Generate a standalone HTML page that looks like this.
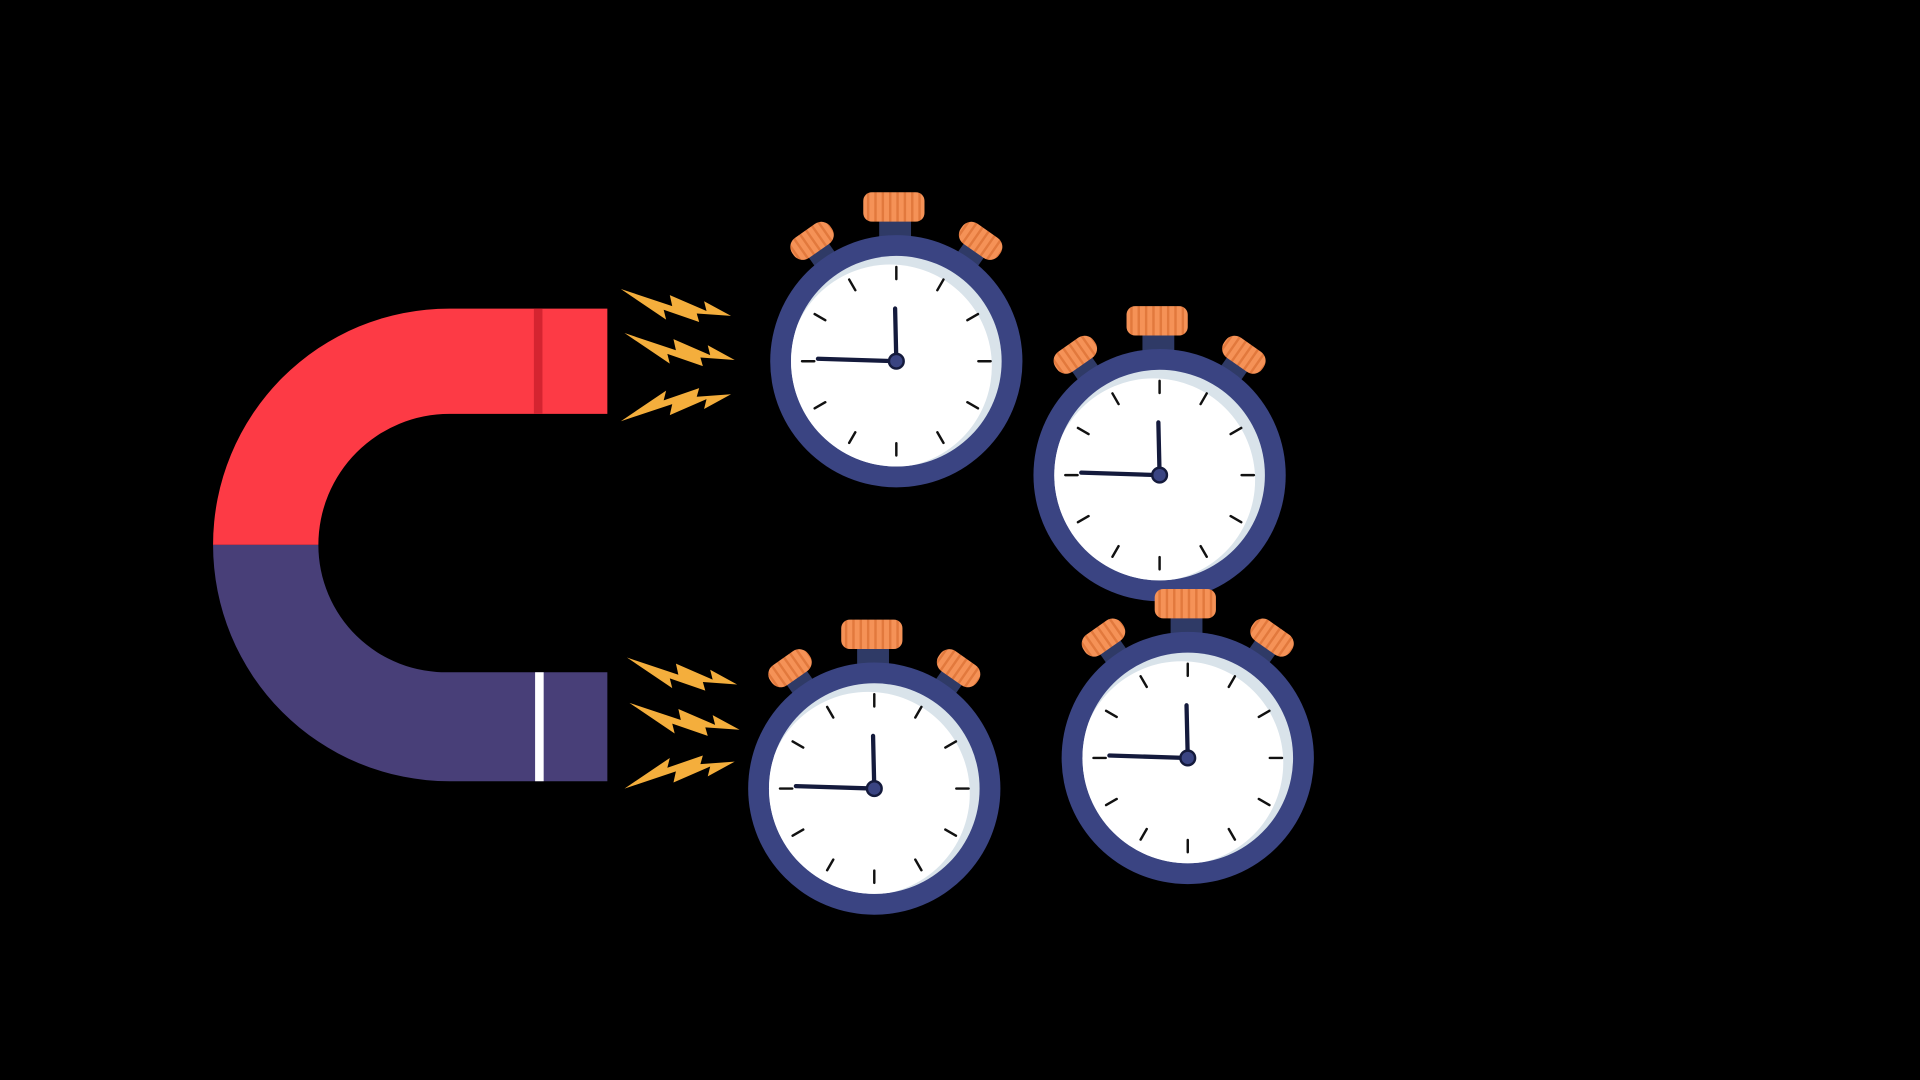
<!DOCTYPE html>
<html><head><meta charset="utf-8"><style>html,body{margin:0;padding:0;background:#000;overflow:hidden}svg{display:block}</style></head>
<body>
<svg width="1920" height="1080" viewBox="0 0 1568 882" xmlns="http://www.w3.org/2000/svg">
<defs>
<pattern id="st" width="6" height="10" patternUnits="userSpaceOnUse"><rect width="6" height="10" fill="#f59257"/><rect width="2" height="10" fill="#e2793d"/></pattern>
<clipPath id="fc"><circle r="86"/></clipPath>
<g id="sw">
  <g transform="rotate(-35)"><rect x="-10" y="-114" width="20" height="18" fill="#2f3a66"/><rect x="-19" y="-130" width="38" height="20" rx="9" fill="url(#st)"/></g>
  <g transform="rotate(35)"><rect x="-10" y="-114" width="20" height="18" fill="#2f3a66"/><rect x="-19" y="-130" width="38" height="20" rx="9" fill="url(#st)"/></g>
  <rect x="-14" y="-118" width="26" height="18" fill="#2f3a66"/>
  <rect x="-27" y="-138" width="50" height="24" rx="7" fill="url(#st)"/>
  <circle r="103" fill="#3a4482"/>
  <circle r="86" fill="#d9e3ea"/>
  <circle cx="-5" cy="4" r="83" fill="#fff" clip-path="url(#fc)"/>
  <g stroke="#111" stroke-width="2" stroke-linecap="round">
    <line x1="0" y1="-77" x2="0" y2="-67"/>
    <line x1="0" y1="-77" x2="0" y2="-67" transform="rotate(30)"/>
    <line x1="0" y1="-77" x2="0" y2="-67" transform="rotate(60)"/>
    <line x1="0" y1="-77" x2="0" y2="-67" transform="rotate(90)"/>
    <line x1="0" y1="-77" x2="0" y2="-67" transform="rotate(120)"/>
    <line x1="0" y1="-77" x2="0" y2="-67" transform="rotate(150)"/>
    <line x1="0" y1="-77" x2="0" y2="-67" transform="rotate(180)"/>
    <line x1="0" y1="-77" x2="0" y2="-67" transform="rotate(210)"/>
    <line x1="0" y1="-77" x2="0" y2="-67" transform="rotate(240)"/>
    <line x1="0" y1="-77" x2="0" y2="-67" transform="rotate(270)"/>
    <line x1="0" y1="-77" x2="0" y2="-67" transform="rotate(300)"/>
    <line x1="0" y1="-77" x2="0" y2="-67" transform="rotate(330)"/>
  </g>
  <g stroke="#141a3c" stroke-linecap="round">
    <line x1="0" y1="0" x2="-1" y2="-43" stroke-width="3.5"/>
    <line x1="0" y1="0" x2="-64" y2="-2" stroke-width="3.5"/>
  </g>
  <circle r="6" fill="#3a4482" stroke="#141a3c" stroke-width="2"/>
</g>
<polygon id="bolt" points="0,0 42,14 40,5 70,18 68,10 90,22 62,20 64,27 35,17 37,25" fill="#f4ae3c"/>
</defs>

<path d="M496,252 H367 A193,193 0 0 0 174,445 H260 A107,107 0 0 1 367,338 H496 Z" fill="#fd3a45"/>
<path d="M496,638 H367 A193,193 0 0 1 174,445 H260 A104,104 0 0 0 367,549 H496 Z" fill="#483f78"/>
<rect x="436" y="252" width="7" height="86" fill="#d42430"/>
<rect x="437" y="549" width="7" height="89" fill="#fff"/>

<use href="#bolt" transform="translate(507,236)"/>
<use href="#bolt" transform="translate(510,272)"/>
<use href="#bolt" transform="translate(507,344) scale(1,-1)"/>
<use href="#bolt" transform="translate(512,537)"/>
<use href="#bolt" transform="translate(514,574)"/>
<use href="#bolt" transform="translate(510,644) scale(1,-1)"/>

<use href="#sw" transform="translate(732,295)"/>
<use href="#sw" transform="translate(947,388)"/>
<use href="#sw" transform="translate(714,644)"/>
<use href="#sw" transform="translate(970,619)"/>
</svg>
</body></html>
